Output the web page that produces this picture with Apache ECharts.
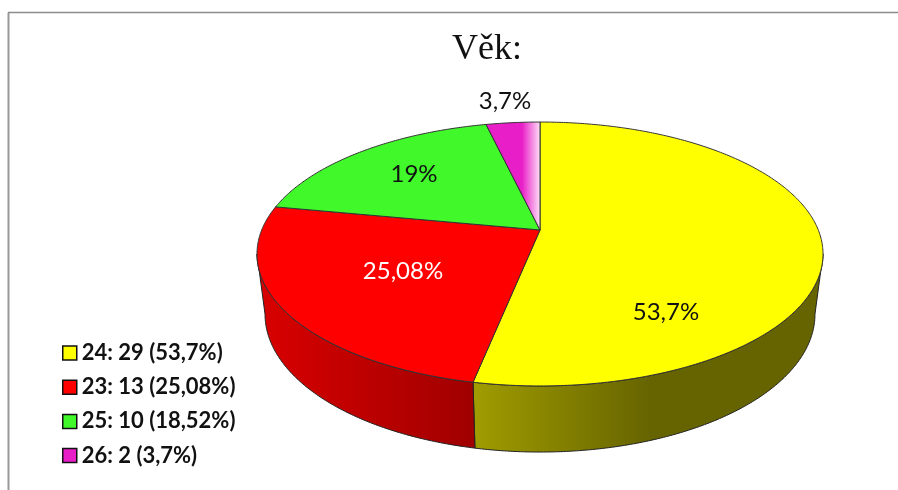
<!DOCTYPE html>
<html>
<head>
<meta charset="utf-8">
<style>html,body{margin:0;padding:0;background:#fff}#c{width:898px;height:490px}</style>
<script src="https://cdn.jsdelivr.net/npm/echarts@6/dist/echarts.min.js"></script>
</head>
<body>
<div id="c"></div>
<script>
// ---- data ----
const titleText = 'Věk:';
const legendNames = ['24: 29 (53,7%)', '23: 13 (25,08%)', '25: 10 (18,52%)', '26: 2 (3,7%)'];
const shares = [53.7, 25.08, 18.52, 3.7];
const sliceLabels = ['53,7%', '25,08%', '19%', '3,7%'];

// ---- styling / layout ----
const topFills = ['#ffff00', '#ff0000', '#40f82a', '#e81ec8'];
const labelColors = ['#111', '#fff', '#111', '#111'];
const labelAt = [[666, 312], [403, 271], [414, 174], [505, 101]];
const sideStops = [['#a09c00', '#666400', 474, 650], ['#d80000', '#a00000', 262, 474], null, null];

// perspective projection of the disc
const cx = 540, k = 0.1818;
const rimTop = { a: 278.3, b: 127.6, y0: 230 };
const rimBottom = { a: 270.4, b: 133.4, y0: 289 };
const tangent = Math.acos(-k);           // where the rim reaches its widest x
const total = shares.reduce((s, v) => s + v, 0);

function project(rim, theta) {
  const X = Math.sin(theta), Y = Math.cos(theta), w = 1 + k * Y;
  return [cx + rim.a * X / w, rim.y0 - rim.b * Y / w];
}
function arc(rim, from, to) {
  const n = Math.max(2, Math.ceil(Math.abs(to - from) / 0.01));
  const out = [];
  for (let i = 0; i <= n; i++) out.push(project(rim, from + (to - from) * i / n));
  return out;
}
function renderSlice(params, api) {
  const i = params.seriesIndex;
  let before = 0;
  for (let j = 0; j < i; j++) before += shares[j];
  const start = before / total * 2 * Math.PI;
  const end = start + api.value(0) / total * 2 * Math.PI;
  const children = [];
  const s = sideStops[i];
  if (s) {
    const a = Math.max(start, tangent), b = Math.min(end, 2 * Math.PI - tangent);
    if (b > a) {
      children.push({
        type: 'polygon',
        shape: { points: arc(rimTop, a, b).concat(arc(rimBottom, b, a)) },
        style: {
          fill: new echarts.graphic.LinearGradient(s[2], 0, s[3], 0,
            [{ offset: 0, color: s[0] }, { offset: 1, color: s[1] }], true),
          stroke: '#222', lineWidth: 1
        }
      });
    }
  }
  let fill = topFills[i];
  if (i === 3) {
    fill = new echarts.graphic.LinearGradient(522, 0, 541, 0,
      [{ offset: 0, color: '#e81ec8' }, { offset: 1, color: '#ffe8f8' }], true);
  }
  children.push({
    type: 'polygon',
    shape: { points: [[cx, rimTop.y0]].concat(arc(rimTop, start, end)) },
    style: { fill: fill, stroke: '#333', lineWidth: 1 }
  });
  children.push({
    type: 'text',
    style: {
      x: labelAt[i][0], y: labelAt[i][1], text: sliceLabels[i],
      fill: labelColors[i], font: '24px Lato',
      textAlign: 'center', textVerticalAlign: 'middle'
    }
  });
  return { type: 'group', children: children };
}

const chart = echarts.init(document.getElementById('c'), null, { renderer: 'canvas' });
chart.setOption({
  animation: false,
  backgroundColor: '#fff',
  title: {
    text: titleText, left: 482, top: 27, textAlign: 'center',
    textStyle: { fontFamily: 'Liberation Serif', fontWeight: 'normal', fontSize: 36, color: '#111' }
  },
  legend: {
    orient: 'vertical', left: 57, top: 337, itemWidth: 14, itemHeight: 14, itemGap: 12.2,
    icon: 'rect', selectedMode: false, itemStyle: { borderColor: '#111', borderWidth: 1.5 },
    textStyle: { fontFamily: 'Lato', fontWeight: 'bold', fontSize: 22, color: '#111', padding: [0, 0, 0, 0] },
    data: legendNames
  },
  graphic: [
    { type: 'line', shape: { x1: 8.5, y1: 12.5, x2: 8.5, y2: 490 }, style: { stroke: '#999', lineWidth: 2 } },
    { type: 'line', shape: { x1: 8, y1: 12.5, x2: 898, y2: 12.5 }, style: { stroke: '#8c8c8c', lineWidth: 1.6 } }
  ],
  series: shares.map((v, i) => ({
    type: 'custom',
    name: legendNames[i],
    coordinateSystem: 'none',
    itemStyle: { color: topFills[i] },
    renderItem: renderSlice,
    data: [[v]]
  }))
});
</script>
</body>
</html>
